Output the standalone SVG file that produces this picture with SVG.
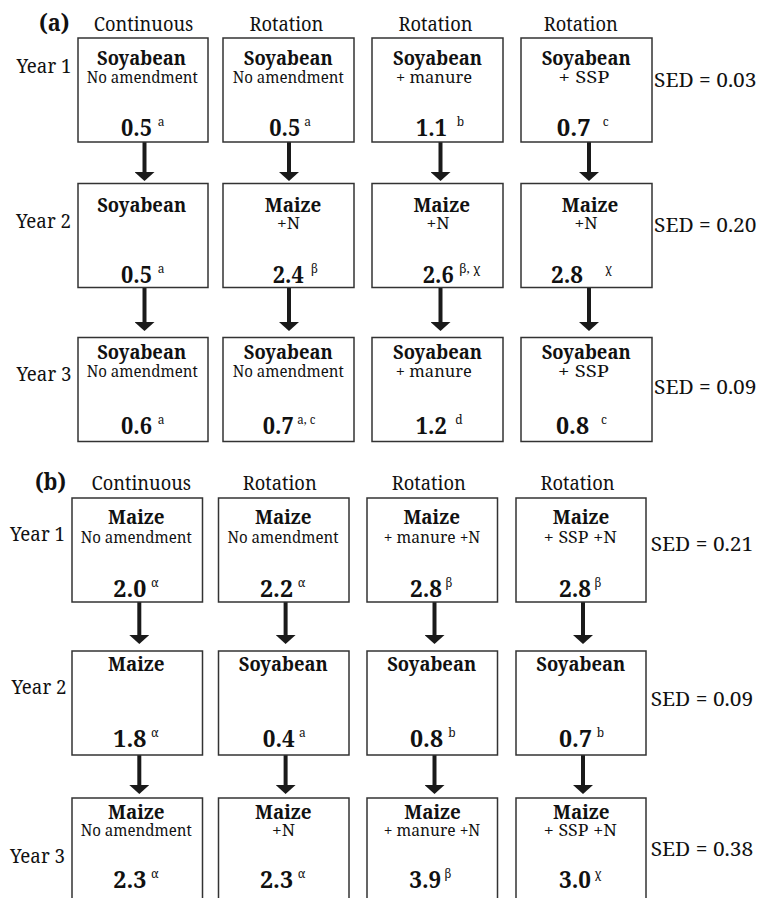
<svg xmlns="http://www.w3.org/2000/svg" width="771" height="898" viewBox="0 0 771 898">
<defs>
<style>
.bg{fill:#fff}
.box{fill:#fff;stroke:#333;stroke-width:1.5}
text{font-family:"Noto Serif","DejaVu Serif",serif;fill:#111}
.hdr{font-size:20px;text-anchor:middle}
.plab{font-size:23.5px;font-weight:bold}
.yr{font-size:19px}
.crop{font-size:20px;font-weight:bold;text-anchor:middle}
.sub{font-size:16.7px;text-anchor:middle}
.num{font-size:23.5px;font-weight:bold}
.sup{font-size:12px}
.sed{font-size:20px}
.arr{stroke:#1a1a1a;stroke-width:4;fill:none;marker-end:url(#ah)}
</style>
<marker id="ah" viewBox="0 0 9 20" refX="0" refY="10" markerWidth="9" markerHeight="20" markerUnits="userSpaceOnUse" orient="auto">
<path d="M0,0 L9,10 L0,20 Z" fill="#1a1a1a"/>
</marker>
</defs>
<rect class="bg" x="0" y="0" width="771" height="898"/>

<g id="labels-a">
<text class="plab" x="39" y="30.5" textLength="30.5" lengthAdjust="spacingAndGlyphs">(a)</text>
<text class="hdr" x="143.5" y="30.5" textLength="99.5" lengthAdjust="spacingAndGlyphs">Continuous</text>
<text class="hdr" x="286.4" y="30.5" textLength="74" lengthAdjust="spacingAndGlyphs">Rotation</text>
<text class="hdr" x="435.5" y="30.5" textLength="74" lengthAdjust="spacingAndGlyphs">Rotation</text>
<text class="hdr" x="580.8" y="30.5" textLength="74" lengthAdjust="spacingAndGlyphs">Rotation</text>
<text class="yr" x="16.5" y="73.3" textLength="55" lengthAdjust="spacingAndGlyphs">Year 1</text>
<text class="yr" x="16" y="228.3" textLength="55" lengthAdjust="spacingAndGlyphs">Year 2</text>
<text class="yr" x="16.5" y="381" textLength="55" lengthAdjust="spacingAndGlyphs">Year 3</text>
<text class="sed" x="654" y="87.3" textLength="102.5" lengthAdjust="spacingAndGlyphs">SED = 0.03</text>
<text class="sed" x="654" y="231.7" textLength="102.5" lengthAdjust="spacingAndGlyphs">SED = 0.20</text>
<text class="sed" x="654" y="394.3" textLength="102.5" lengthAdjust="spacingAndGlyphs">SED = 0.09</text>
</g>

<g id="connectors">
<line class="arr" x1="144.5" y1="142" x2="144.5" y2="172"/>
<line class="arr" x1="289" y1="142" x2="289" y2="172"/>
<line class="arr" x1="440.5" y1="142" x2="440.5" y2="172"/>
<line class="arr" x1="589" y1="142" x2="589" y2="172"/>
<line class="arr" x1="144.5" y1="288" x2="144.5" y2="322"/>
<line class="arr" x1="289" y1="288" x2="289" y2="322"/>
<line class="arr" x1="440.5" y1="288" x2="440.5" y2="322"/>
<line class="arr" x1="589" y1="288" x2="589" y2="322"/>
<line class="arr" x1="139.3" y1="602" x2="139.3" y2="635"/>
<line class="arr" x1="285.6" y1="602" x2="285.6" y2="635"/>
<line class="arr" x1="434.5" y1="602" x2="434.5" y2="635"/>
<line class="arr" x1="583" y1="602" x2="583" y2="635"/>
<line class="arr" x1="139.3" y1="755" x2="139.3" y2="785"/>
<line class="arr" x1="285.6" y1="755" x2="285.6" y2="785"/>
<line class="arr" x1="434.5" y1="755" x2="434.5" y2="785"/>
<line class="arr" x1="583" y1="755" x2="583" y2="785"/>
</g>

<g id="a-y1-continuous">
<rect class="box" x="78" y="38" width="130" height="104"/>
<text class="crop" x="141.5" y="65" textLength="89" lengthAdjust="spacingAndGlyphs">Soyabean</text>
<text class="sub" x="142.3" y="82.5" textLength="111" lengthAdjust="spacingAndGlyphs">No amendment</text>
<text class="num" x="121" y="135.5" textLength="31" lengthAdjust="spacingAndGlyphs">0.5</text>
<text class="sup" x="157.7" y="125.5">a</text>
</g>
<g id="a-y1-rot1">
<rect class="box" x="223" y="38" width="131" height="104"/>
<text class="crop" x="288.3" y="65" textLength="89" lengthAdjust="spacingAndGlyphs">Soyabean</text>
<text class="sub" x="288.3" y="82.5" textLength="111" lengthAdjust="spacingAndGlyphs">No amendment</text>
<text class="num" x="269.3" y="135.5" textLength="31" lengthAdjust="spacingAndGlyphs">0.5</text>
<text class="sup" x="304.3" y="125.5">a</text>
</g>
<g id="a-y1-rot2">
<rect class="box" x="372" y="38" width="131" height="104"/>
<text class="crop" x="437.5" y="65" textLength="89" lengthAdjust="spacingAndGlyphs">Soyabean</text>
<text class="sub" x="434" y="82.5" textLength="76" lengthAdjust="spacingAndGlyphs">+ manure</text>
<text class="num" x="416" y="135.5" textLength="31" lengthAdjust="spacingAndGlyphs">1.1</text>
<text class="sup" x="456.7" y="125.5">b</text>
</g>
<g id="a-y1-rot3">
<rect class="box" x="521" y="38" width="131" height="104"/>
<text class="crop" x="586.2" y="65" textLength="89" lengthAdjust="spacingAndGlyphs">Soyabean</text>
<text class="sub" x="584" y="82.5" textLength="51" lengthAdjust="spacingAndGlyphs">+ SSP</text>
<text class="num" x="556.7" y="135.5" textLength="34" lengthAdjust="spacingAndGlyphs">0.7</text>
<text class="sup" x="602.7" y="125.5">c</text>
</g>

<g id="a-y2-continuous">
<rect class="box" x="78" y="183.5" width="130" height="104"/>
<text class="crop" x="141.7" y="212" textLength="89" lengthAdjust="spacingAndGlyphs">Soyabean</text>
<text class="num" x="121" y="283" textLength="31" lengthAdjust="spacingAndGlyphs">0.5</text>
<text class="sup" x="157.7" y="273">a</text>
</g>
<g id="a-y2-rot1">
<rect class="box" x="223" y="183.5" width="131" height="104"/>
<text class="crop" x="293" y="212" textLength="56.5" lengthAdjust="spacingAndGlyphs">Maize</text>
<text class="sub" x="288.5" y="229.3" textLength="23" lengthAdjust="spacingAndGlyphs">+N</text>
<text class="num" x="272.7" y="283" textLength="31" lengthAdjust="spacingAndGlyphs">2.4</text>
<text class="sup" x="311" y="273">β</text>
</g>
<g id="a-y2-rot2">
<rect class="box" x="372" y="183.5" width="131" height="104"/>
<text class="crop" x="441.7" y="212" textLength="56.5" lengthAdjust="spacingAndGlyphs">Maize</text>
<text class="sub" x="438" y="229.3" textLength="23" lengthAdjust="spacingAndGlyphs">+N</text>
<text class="num" x="422.7" y="283" textLength="31" lengthAdjust="spacingAndGlyphs">2.6</text>
<text class="sup" x="459.3" y="273" textLength="21" lengthAdjust="spacingAndGlyphs">β, χ</text>
</g>
<g id="a-y2-rot3">
<rect class="box" x="521" y="183.5" width="131" height="104"/>
<text class="crop" x="590" y="212" textLength="56.5" lengthAdjust="spacingAndGlyphs">Maize</text>
<text class="sub" x="586" y="229.3" textLength="23" lengthAdjust="spacingAndGlyphs">+N</text>
<text class="num" x="551" y="283" textLength="32" lengthAdjust="spacingAndGlyphs">2.8</text>
<text class="sup" x="605" y="273">χ</text>
</g>

<g id="a-y3-continuous">
<rect class="box" x="78" y="337.5" width="130" height="104"/>
<text class="crop" x="141.7" y="358.5" textLength="89" lengthAdjust="spacingAndGlyphs">Soyabean</text>
<text class="sub" x="142.3" y="376.5" textLength="111" lengthAdjust="spacingAndGlyphs">No amendment</text>
<text class="num" x="121" y="434.3" textLength="31" lengthAdjust="spacingAndGlyphs">0.6</text>
<text class="sup" x="157.7" y="424.3">a</text>
</g>
<g id="a-y3-rot1">
<rect class="box" x="223" y="337.5" width="131" height="104"/>
<text class="crop" x="288.3" y="358.5" textLength="89" lengthAdjust="spacingAndGlyphs">Soyabean</text>
<text class="sub" x="288.3" y="376.5" textLength="111" lengthAdjust="spacingAndGlyphs">No amendment</text>
<text class="num" x="262.7" y="434.3" textLength="31" lengthAdjust="spacingAndGlyphs">0.7</text>
<text class="sup" x="297.3" y="424.3" textLength="18" lengthAdjust="spacingAndGlyphs">a, c</text>
</g>
<g id="a-y3-rot2">
<rect class="box" x="372" y="337.5" width="131" height="104"/>
<text class="crop" x="437.5" y="358.5" textLength="89" lengthAdjust="spacingAndGlyphs">Soyabean</text>
<text class="sub" x="433.8" y="376.5" textLength="76" lengthAdjust="spacingAndGlyphs">+ manure</text>
<text class="num" x="415.7" y="434.3" textLength="31" lengthAdjust="spacingAndGlyphs">1.2</text>
<text class="sup" x="455.3" y="424.3">d</text>
</g>
<g id="a-y3-rot3">
<rect class="box" x="521" y="337.5" width="131" height="104"/>
<text class="crop" x="586.2" y="358.5" textLength="89" lengthAdjust="spacingAndGlyphs">Soyabean</text>
<text class="sub" x="583.5" y="376.5" textLength="51" lengthAdjust="spacingAndGlyphs">+ SSP</text>
<text class="num" x="556" y="434.3" textLength="33" lengthAdjust="spacingAndGlyphs">0.8</text>
<text class="sup" x="601" y="424.3">c</text>
</g>

<g id="labels-b">
<text class="plab" x="35" y="490" textLength="31" lengthAdjust="spacingAndGlyphs">(b)</text>
<text class="hdr" x="141.3" y="490" textLength="99.5" lengthAdjust="spacingAndGlyphs">Continuous</text>
<text class="hdr" x="279.7" y="490" textLength="74" lengthAdjust="spacingAndGlyphs">Rotation</text>
<text class="hdr" x="428.8" y="490" textLength="74" lengthAdjust="spacingAndGlyphs">Rotation</text>
<text class="hdr" x="577.5" y="490" textLength="74" lengthAdjust="spacingAndGlyphs">Rotation</text>
<text class="yr" x="10" y="541" textLength="55" lengthAdjust="spacingAndGlyphs">Year 1</text>
<text class="yr" x="11.5" y="694.3" textLength="55" lengthAdjust="spacingAndGlyphs">Year 2</text>
<text class="yr" x="10" y="863.3" textLength="55" lengthAdjust="spacingAndGlyphs">Year 3</text>
<text class="sed" x="650.7" y="550.7" textLength="102.5" lengthAdjust="spacingAndGlyphs">SED = 0.21</text>
<text class="sed" x="650.7" y="706" textLength="102.5" lengthAdjust="spacingAndGlyphs">SED = 0.09</text>
<text class="sed" x="650.7" y="856" textLength="102.5" lengthAdjust="spacingAndGlyphs">SED = 0.38</text>
</g>

<g id="b-y1-continuous">
<rect class="box" x="72" y="498" width="130.5" height="104"/>
<text class="crop" x="136.3" y="524" textLength="56.5" lengthAdjust="spacingAndGlyphs">Maize</text>
<text class="sub" x="136.2" y="542.7" textLength="111" lengthAdjust="spacingAndGlyphs">No amendment</text>
<text class="num" x="113.3" y="596.7" textLength="33" lengthAdjust="spacingAndGlyphs">2.0</text>
<text class="sup" x="151" y="586.7">α</text>
</g>
<g id="b-y1-rot1">
<rect class="box" x="218.5" y="498" width="130.5" height="104"/>
<text class="crop" x="283.3" y="524" textLength="56.5" lengthAdjust="spacingAndGlyphs">Maize</text>
<text class="sub" x="283" y="542.7" textLength="111" lengthAdjust="spacingAndGlyphs">No amendment</text>
<text class="num" x="260" y="596.7" textLength="33" lengthAdjust="spacingAndGlyphs">2.2</text>
<text class="sup" x="297.7" y="586.7">α</text>
</g>
<g id="b-y1-rot2">
<rect class="box" x="367" y="498" width="130.5" height="104"/>
<text class="crop" x="431.7" y="524" textLength="56.5" lengthAdjust="spacingAndGlyphs">Maize</text>
<text class="sub" x="432" y="542.7" textLength="96.5" lengthAdjust="spacingAndGlyphs">+ manure +N</text>
<text class="num" x="410" y="596.7" textLength="32" lengthAdjust="spacingAndGlyphs">2.8</text>
<text class="sup" x="445.5" y="586.7">β</text>
</g>
<g id="b-y1-rot3">
<rect class="box" x="516" y="498" width="130" height="104"/>
<text class="crop" x="581" y="524" textLength="56.5" lengthAdjust="spacingAndGlyphs">Maize</text>
<text class="sub" x="580.3" y="542.7" textLength="73" lengthAdjust="spacingAndGlyphs">+ SSP +N</text>
<text class="num" x="559" y="596.7" textLength="32" lengthAdjust="spacingAndGlyphs">2.8</text>
<text class="sup" x="594.5" y="586.7">β</text>
</g>

<g id="b-y2-continuous">
<rect class="box" x="72" y="651" width="130.5" height="104"/>
<text class="crop" x="136.3" y="670.7" textLength="56.5" lengthAdjust="spacingAndGlyphs">Maize</text>
<text class="num" x="113.3" y="746.7" textLength="33" lengthAdjust="spacingAndGlyphs">1.8</text>
<text class="sup" x="151" y="736.7">α</text>
</g>
<g id="b-y2-rot1">
<rect class="box" x="218.5" y="651" width="130.5" height="104"/>
<text class="crop" x="283.3" y="670.7" textLength="89" lengthAdjust="spacingAndGlyphs">Soyabean</text>
<text class="num" x="262.7" y="746.7" textLength="32" lengthAdjust="spacingAndGlyphs">0.4</text>
<text class="sup" x="299" y="736.7">a</text>
</g>
<g id="b-y2-rot2">
<rect class="box" x="367" y="651" width="130.5" height="104"/>
<text class="crop" x="431.7" y="670.7" textLength="89" lengthAdjust="spacingAndGlyphs">Soyabean</text>
<text class="num" x="410" y="746.7" textLength="33" lengthAdjust="spacingAndGlyphs">0.8</text>
<text class="sup" x="448.3" y="736.7">b</text>
</g>
<g id="b-y2-rot3">
<rect class="box" x="516" y="651" width="130" height="104"/>
<text class="crop" x="580.8" y="670.7" textLength="89" lengthAdjust="spacingAndGlyphs">Soyabean</text>
<text class="num" x="559" y="746.7" textLength="33" lengthAdjust="spacingAndGlyphs">0.7</text>
<text class="sup" x="596.7" y="736.7">b</text>
</g>

<g id="b-y3-continuous">
<rect class="box" x="72" y="798" width="130.5" height="104"/>
<text class="crop" x="136.3" y="819" textLength="56.5" lengthAdjust="spacingAndGlyphs">Maize</text>
<text class="sub" x="136.2" y="836" textLength="111" lengthAdjust="spacingAndGlyphs">No amendment</text>
<text class="num" x="113.3" y="888" textLength="33" lengthAdjust="spacingAndGlyphs">2.3</text>
<text class="sup" x="151" y="878">α</text>
</g>
<g id="b-y3-rot1">
<rect class="box" x="218.5" y="798" width="130.5" height="104"/>
<text class="crop" x="283.3" y="819" textLength="56.5" lengthAdjust="spacingAndGlyphs">Maize</text>
<text class="sub" x="283.5" y="836" textLength="23" lengthAdjust="spacingAndGlyphs">+N</text>
<text class="num" x="260" y="888" textLength="33" lengthAdjust="spacingAndGlyphs">2.3</text>
<text class="sup" x="297.7" y="878">α</text>
</g>
<g id="b-y3-rot2">
<rect class="box" x="367" y="798" width="130.5" height="104"/>
<text class="crop" x="432.5" y="819" textLength="56.5" lengthAdjust="spacingAndGlyphs">Maize</text>
<text class="sub" x="432" y="836" textLength="96.5" lengthAdjust="spacingAndGlyphs">+ manure +N</text>
<text class="num" x="409.3" y="888" textLength="32" lengthAdjust="spacingAndGlyphs">3.9</text>
<text class="sup" x="444.5" y="878">β</text>
</g>
<g id="b-y3-rot3">
<rect class="box" x="516" y="798" width="130" height="104"/>
<text class="crop" x="581.3" y="819" textLength="56.5" lengthAdjust="spacingAndGlyphs">Maize</text>
<text class="sub" x="580.3" y="836" textLength="73" lengthAdjust="spacingAndGlyphs">+ SSP +N</text>
<text class="num" x="559" y="888" textLength="32" lengthAdjust="spacingAndGlyphs">3.0</text>
<text class="sup" x="594.5" y="878">χ</text>
</g>
</svg>
